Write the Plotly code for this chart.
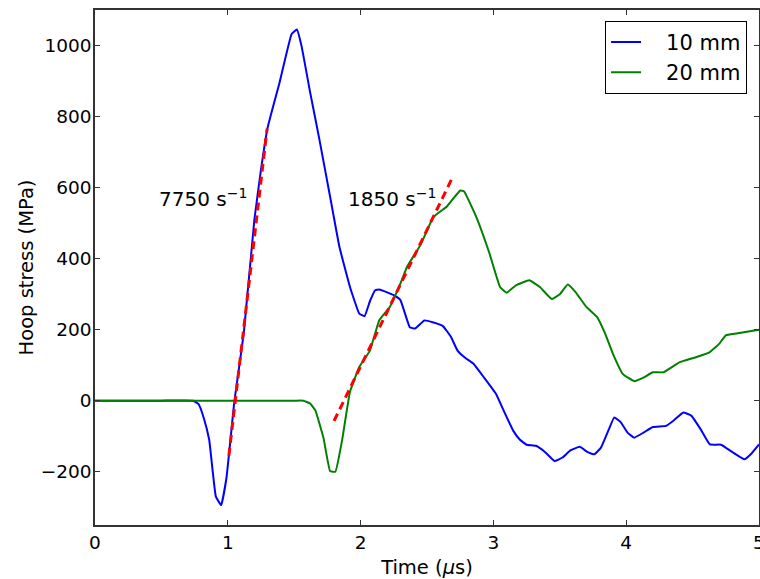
import plotly.graph_objects as go

# 10 mm series
t10 = [0, 0.5, 0.74, 0.78, 0.82, 0.86, 0.91, 0.95, 0.99, 1.05, 1.12, 1.20, 1.25, 1.30,
       1.39, 1.48, 1.52, 1.555, 1.62, 1.69, 1.77, 1.84, 1.92, 1.99, 2.03, 2.07, 2.11,
       2.14, 2.20, 2.25, 2.30, 2.37, 2.41, 2.48, 2.55, 2.62, 2.68, 2.73, 2.79, 2.85,
       2.93, 3.02, 3.08, 3.15, 3.20, 3.25, 3.32, 3.39, 3.46, 3.52, 3.58, 3.65, 3.71,
       3.76, 3.81, 3.87, 3.91, 3.96, 4.01, 4.06, 4.13, 4.20, 4.30, 4.36, 4.43, 4.49,
       4.56, 4.63, 4.715, 4.80, 4.89, 4.94, 5.0]
s10 = [0, 0, 0, -10, -50, -110, -270, -294, -217, 0, 189, 509, 651, 769,
       896, 1032, 1045, 999, 868, 735, 575, 434, 320, 245, 238, 280, 311,
       313, 305, 297, 283, 207, 203, 226, 220, 210, 180, 141, 120, 104,
       65, 19, -30, -85, -110, -124, -127, -145, -170, -160, -140, -130, -145,
       -151, -132, -80, -47, -61, -90, -104, -90, -74, -71, -55, -33, -42,
       -80, -123, -124, -145, -165, -150, -123]

# 20 mm series
t20 = [0, 0.5, 1.0, 1.5, 1.57, 1.62, 1.66, 1.72, 1.77, 1.81, 1.86, 1.92, 1.99, 2.07,
       2.14, 2.22, 2.30, 2.35, 2.45, 2.55, 2.65, 2.70, 2.75, 2.78, 2.87, 2.97, 3.05,
       3.10, 3.17, 3.27, 3.35, 3.44, 3.50, 3.56, 3.62, 3.70, 3.78, 3.84, 3.90, 3.975,
       4.06, 4.13, 4.20, 4.28, 4.40, 4.53, 4.63, 4.70, 4.75, 4.83, 4.92, 5.0]
s20 = [0, 0, 0, 0, 0, -8, -28, -104, -198, -200, -113, 25, 95, 141,
       226, 264, 330, 377, 438, 518, 547, 570, 592, 589, 518, 415, 320,
       304, 325, 339, 320, 286, 300, 327, 305, 264, 236, 190, 132, 75,
       55, 65, 80, 80, 108, 123, 137, 160, 184, 189, 195, 200]

# strain-rate fit lines
fit1_t = [1.008, 1.296]
fit1_s = [-155, 766]
fit2_t = [1.80, 2.69]
fit2_s = [-57, 627]

series_names = ["10 mm", "20 mm"]
labels = ["7750 s<sup>\u22121</sup>", "1850 s<sup>\u22121</sup>"]
label_t = [0.47, 1.89]
label_s = [571, 571]

x_ticks = [0, 1, 2, 3, 4, 5]
y_ticks = [-200, 0, 200, 400, 600, 800, 1000]

FONT = "DejaVu Sans"
PAD = "\u00a0\u00a0\u00a0"

fig = go.Figure()
fig.add_trace(go.Scatter(x=t10, y=s10, mode="lines", name=PAD + series_names[0],
                         line=dict(color="#0000ff", width=2, shape="spline", smoothing=0.3)))
fig.add_trace(go.Scatter(x=t20, y=s20, mode="lines", name=PAD + series_names[1],
                         line=dict(color="#008000", width=2, shape="spline", smoothing=0.3)))
fig.add_trace(go.Scatter(x=fit1_t, y=fit1_s, mode="lines", showlegend=False,
                         line=dict(color="#ff0000", width=3, dash="8px,5px")))
fig.add_trace(go.Scatter(x=fit2_t, y=fit2_s, mode="lines", showlegend=False,
                         line=dict(color="#ff0000", width=3, dash="8px,5px")))

for txt, xt, ys in zip(labels, label_t, label_s):
    fig.add_annotation(x=xt, y=ys, text=txt, showarrow=False, xanchor="left",
                       yanchor="middle", font=dict(family=FONT, size=20, color="black"))

fig.update_layout(
    width=760, height=579,
    margin=dict(l=95, r=1, t=10, b=54),
    plot_bgcolor="white", paper_bgcolor="white",
    font=dict(family=FONT, size=18.5, color="black"),
    showlegend=True,
    legend=dict(x=0.982, y=0.979, xanchor="right", yanchor="top",
                bordercolor="black", borderwidth=1, bgcolor="white",
                font=dict(family=FONT, size=21), tracegroupgap=0,
                itemwidth=30),
)
fig.update_xaxes(range=[0, 5], tickvals=x_ticks, ticks="inside", ticklen=5,
                 tickcolor="#333", mirror="ticks", showline=True, linecolor="#333",
                 linewidth=1.5, showgrid=False, zeroline=False, automargin=False,
                 tickfont=dict(size=18.5), ticklabeloverflow="allow",
                 title=dict(text="Time (<i>\u03bc</i>s)", font=dict(size=19.5), standoff=8))
fig.update_yaxes(range=[-350, 1100], tickvals=y_ticks, ticks="inside", ticklen=5,
                 tickcolor="#333", mirror="ticks", showline=True, linecolor="#333",
                 linewidth=1.5, showgrid=False, zeroline=False, automargin=False,
                 tickfont=dict(size=18.5), ticklabelstandoff=-2,
                 title=dict(text="Hoop stress (MPa)", font=dict(size=19.5), standoff=2))

fig.write_html("out.html", config={"displayModeBar": False},
               post_script="document.body.style.margin='0';document.body.style.overflow='hidden';")
